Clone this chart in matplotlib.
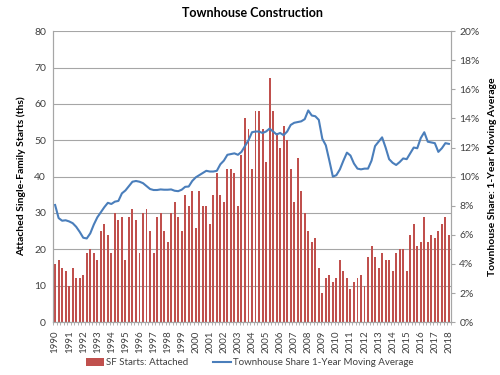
import matplotlib
matplotlib.use("Agg")
import matplotlib.pyplot as plt
import numpy as np
from matplotlib.patches import Patch
from matplotlib.lines import Line2D
from matplotlib.ticker import PercentFormatter, FixedLocator

plt.rcParams["font.family"] = ["Lato", "DejaVu Sans"]

# quarterly, 1990Q1 .. 2018Q1
years = list(range(1990, 2019))

starts_attached = [
    16, 17, 15, 14,   # 1990
    10, 15, 12, 12,   # 1991
    13, 19, 20, 19,   # 1992
    17, 25, 27, 24,   # 1993
    19, 30, 28, 29,   # 1994
    17, 29, 31, 28,   # 1995
    19, 30, 31, 25,   # 1996
    19, 29, 30, 25,   # 1997
    22, 30, 33, 29,   # 1998
    25, 35, 32, 36,   # 1999
    26, 36, 32, 32,   # 2000
    27, 35, 41, 35,   # 2001
    33, 42, 42, 41,   # 2002
    32, 46, 56, 53,   # 2003
    42, 58, 58, 53,   # 2004
    44, 67, 58, 52,   # 2005
    48, 54, 50, 42,   # 2006
    33, 45, 36, 30,   # 2007
    25, 22, 23, 15,   # 2008
    8, 12, 13, 11,    # 2009
    12, 17, 14, 12,   # 2010
    9, 11, 12, 13,    # 2011
    10, 18, 21, 18,   # 2012
    15, 19, 17, 17,   # 2013
    14, 19, 20, 20,   # 2014
    14, 24, 27, 21,   # 2015
    22, 29, 22, 24,   # 2016
    23, 25, 27, 29,   # 2017
    24,               # 2018
]

townhouse_share = [
    8.05, 7.15, 6.97, 7.00,
    6.92, 6.80, 6.55, 6.20,
    5.80, 5.75, 6.10, 6.70,
    7.20, 7.55, 7.90, 8.20,
    8.12, 8.28, 8.33, 8.85,
    9.05, 9.35, 9.65, 9.70,
    9.65, 9.55, 9.35, 9.15,
    9.08, 9.08, 9.12, 9.10,
    9.10, 9.12, 9.03, 9.00,
    9.10, 9.30, 9.32, 9.70,
    9.95, 10.10, 10.25, 10.40,
    10.35, 10.35, 10.40, 10.85,
    11.10, 11.50, 11.55, 11.60,
    11.50, 11.70, 12.10, 12.50,
    13.05, 13.10, 13.10, 13.00,
    13.10, 13.30, 13.10, 12.90,
    13.00, 12.85, 13.10, 13.55,
    13.70, 13.75, 13.80, 13.95,
    14.55, 14.20, 14.15, 13.90,
    12.60, 12.15, 11.10, 10.00,
    10.10, 10.50, 11.10, 11.65,
    11.45, 10.90, 10.55, 10.50,
    10.55, 10.55, 11.10, 12.10,
    12.40, 12.70, 12.00, 11.20,
    10.95, 10.80, 11.00, 11.25,
    11.20, 11.60, 12.00, 11.95,
    12.65, 13.05, 12.40, 12.35,
    12.30, 11.70, 11.95, 12.30,
    12.25,
]

BAR_COLOR = "#c0504d"
LINE_COLOR = "#4a7ebb"
GRID_COLOR = "#a6a6a6"
TEXT_COLOR = "#404040"

x = np.arange(len(starts_attached))
share = np.array(townhouse_share) / 100.0

fig = plt.figure(figsize=(5.0, 3.75), dpi=100)
ax = fig.add_axes([0.106, 0.141, 0.796, 0.776])
ax2 = ax.twinx()

ax.bar(x, starts_attached, width=0.55, color=BAR_COLOR, linewidth=0, zorder=2)
ax2.plot(x, share, color=LINE_COLOR, linewidth=1.5, zorder=3)

# left axis
ax.set_ylim(0, 80)
ax.set_yticks(range(0, 81, 10))
ax.set_xlim(-0.6, len(x) - 0.4)
ax.yaxis.grid(True, color=GRID_COLOR, linewidth=0.8, zorder=0)
ax.set_axisbelow(True)
ax.tick_params(axis="y", labelsize=7.5, colors=TEXT_COLOR, length=0, pad=5)
ax.set_ylabel("Attached Single-Family Starts (ths)", fontsize=7.5,
              fontweight="bold", color="black", labelpad=6)

# year labels under each Q1 bar
ax.set_xticks(np.arange(0, len(x), 4))
ax.set_xticklabels([str(y) for y in years], rotation=90, fontsize=7)
ax.xaxis.set_minor_locator(FixedLocator(np.arange(-0.5, len(x), 1)))
ax.tick_params(axis="x", which="major", length=0, pad=6, colors=TEXT_COLOR)
ax.tick_params(axis="x", which="minor", length=2, color=GRID_COLOR)

# right axis
ax2.set_ylim(0, 0.20)
ax2.set_yticks(np.arange(0, 0.201, 0.02))
ax2.yaxis.set_major_formatter(PercentFormatter(1.0, decimals=0))
ax2.tick_params(axis="y", labelsize=7.5, colors=TEXT_COLOR, length=3,
                color=GRID_COLOR, pad=3)
ax2.set_ylabel("Townhouse Share: 1-Year Moving Average", fontsize=7.5,
               fontweight="bold", color="black", labelpad=6)

for a in (ax, ax2):
    a.spines["top"].set_visible(False)
    for s in ("left", "right", "bottom"):
        a.spines[s].set_color(GRID_COLOR)
        a.spines[s].set_linewidth(0.8)

ax.set_title("Townhouse Construction", fontsize=9, fontweight="bold", pad=10)

handles = [
    Patch(facecolor=BAR_COLOR, edgecolor="none"),
    Line2D([0], [0], color=LINE_COLOR, linewidth=1.5),
]
fig.legend(handles, ["SF Starts: Attached", "Townhouse Share 1-Year Moving Average"],
           loc="center", bbox_to_anchor=(0.5, 0.033), ncol=2, frameon=False,
           fontsize=7, handlelength=1.8, handleheight=0.8, columnspacing=2.5,
           handletextpad=0.3, labelcolor=TEXT_COLOR)

fig.savefig("out.png", dpi=100)
